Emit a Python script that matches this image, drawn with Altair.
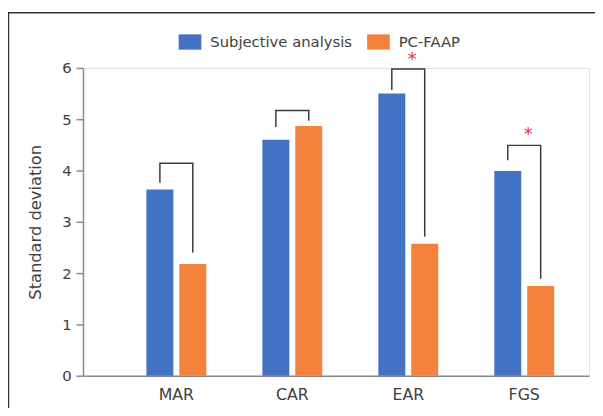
import altair as alt
import pandas as pd

categories = ["MAR", "CAR", "EAR", "FGS"]
series = ["Subjective analysis", "PC-FAAP"]
subjective = [3.63, 4.60, 5.50, 3.99]
pcfaap = [2.18, 4.87, 2.57, 1.75]

# bracket geometry (in data units): left leg bottom, top, right leg bottom
bracket_left = [3.76, 4.85, 5.57, 4.20]
bracket_top = [4.14, 5.17, 5.98, 4.49]
bracket_right = [2.40, 4.97, 2.71, 1.89]

star_cats = ["EAR", "FGS"]
star_vals = [6.2, 4.72]

colors = ["#4472C4", "#F5823C"]
FONT = "DejaVu Sans"
TXT = "#404040"

bars = pd.DataFrame(
    [{"cat": c, "series": series[0], "value": v} for c, v in zip(categories, subjective)]
    + [{"cat": c, "series": series[1], "value": v} for c, v in zip(categories, pcfaap)]
)

br_rows = []
for c, l, t, r in zip(categories, bracket_left, bracket_top, bracket_right):
    br_rows += [
        {"cat": c, "series": series[0], "value": l, "ord": 0},
        {"cat": c, "series": series[0], "value": t, "ord": 1},
        {"cat": c, "series": series[1], "value": t, "ord": 2},
        {"cat": c, "series": series[1], "value": r, "ord": 3},
    ]
brackets = pd.DataFrame(br_rows)
stars = pd.DataFrame({"cat": star_cats, "value": star_vals})

xscale = alt.Scale(domain=categories, paddingInner=0.4836, paddingOuter=0.424, align=0.645, round=False)
yscale = alt.Scale(domain=[0, 6], nice=False)
offscale = alt.Scale(domain=series, paddingInner=0.18, paddingOuter=0, round=False)

x_axis = alt.Axis(title=None, ticks=False, labelAngle=0, labelFont=FONT, labelFontSize=16,
                  labelColor=TXT, labelPadding=11, domainColor="#8a8a8a", domainWidth=1.5)
y_axis = alt.Axis(title="Standard deviation", values=[0, 1, 2, 3, 4, 5, 6], grid=False,
                  labelFont=FONT, labelFontSize=15, labelColor=TXT, labelPadding=5,
                  tickSize=7, tickWidth=1.5, tickColor="#8a8a8a",
                  domainColor="#8a8a8a", domainWidth=1.5,
                  titleFont=FONT, titleFontSize=16.5, titleFontWeight="normal", titleColor=TXT,
                  titleX=-48, titleY=156, titleBaseline="middle")

bar_layer = alt.Chart(bars).mark_bar().encode(
    x=alt.X("cat:N", scale=xscale, axis=x_axis, sort=categories),
    xOffset=alt.XOffset("series:N", scale=offscale, sort=series),
    y=alt.Y("value:Q", scale=yscale, axis=y_axis),
    color=alt.Color("series:N", sort=series,
                    scale=alt.Scale(domain=series, range=colors),
                    legend=alt.Legend(title=None, orient="none", direction="horizontal",
                                      legendX=97, legendY=-38,
                                      symbolType="M-1,-0.674L1,-0.674L1,0.674L-1,0.674Z",
                                      symbolSize=529, symbolStrokeWidth=0, symbolOpacity=1,
                                      labelFont=FONT, labelFontSize=15, labelColor=TXT,
                                      labelOffset=9, columnPadding=15)),
)

bracket_layer = alt.Chart(brackets).mark_line(color="#3a3a3a", strokeWidth=1.5, xOffset=3).encode(
    x=alt.X("cat:N", scale=xscale, sort=categories),
    xOffset=alt.XOffset("series:N", scale=offscale, sort=series),
    y=alt.Y("value:Q", scale=yscale),
    detail="cat:N",
    order="ord:Q",
)

star_layer = alt.Chart(stars).mark_text(text="*", color="#E8303A", font=FONT, fontSize=18,
                                         baseline="top", dx=4, dy=-7).encode(
    x=alt.X("cat:N", scale=xscale, sort=categories),
    y=alt.Y("value:Q", scale=yscale),
)

frame = alt.Chart(alt.Data(values=[{}]))
frame_top = frame.mark_rule(color="#333333", strokeWidth=1.5).encode(
    x=alt.value(-76), x2=alt.value(540), y=alt.value(-56))
frame_left = frame.mark_rule(color="#333333", strokeWidth=1.5).encode(
    x=alt.value(-75.5), y=alt.value(-56), y2=alt.value(420))

chart = alt.layer(frame_top, frame_left, bar_layer, bracket_layer, star_layer).properties(
    width=513, height=312, autosize="none",
    padding={"left": 76, "top": 58, "right": 6, "bottom": 30},
).configure_view(stroke=None).configure(background="white")

chart.save("out.html", embed_options={"renderer": "svg", "actions": False})
